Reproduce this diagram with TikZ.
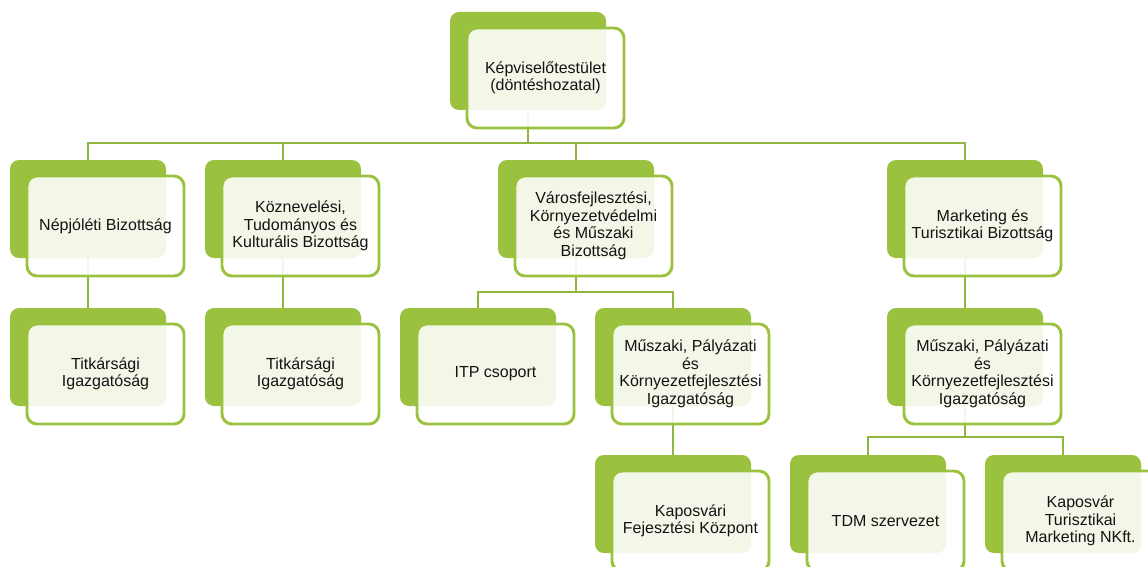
\documentclass[tikz,border=0pt]{standalone}
\usepackage{fontspec}
\setmainfont{Liberation Sans}
\pgfdeclarelayer{bg}
\pgfsetlayers{bg,main}
\definecolor{gr}{RGB}{155,194,62}
\definecolor{ln}{RGB}{143,182,62}
\definecolor{tx}{RGB}{20,20,20}
\tikzset{
 backbox/.style={draw=none, fill=gr, rounded corners=9pt, minimum width=156pt, minimum height=98pt, inner sep=0pt},
 frontbox/.style={draw=gr, line width=2.9pt, fill=white, fill opacity=0.88, text opacity=1, rounded corners=10pt, minimum width=157pt, minimum height=100pt, inner sep=0pt, align=center, text=tx, font=\fontsize{16}{17.5}\selectfont},
 conn/.style={draw=ln, line width=2.9pt}
}
\newcommand\unitbox[4]{%
 \node[backbox] (#1) at (#2+78,#3+49) {};
 \node[frontbox] (#1f) at (#2+95.5,#3+66) {#4};
}
\begin{document}
\begin{tikzpicture}[x=1pt,y=-1pt]
\useasboundingbox (0,0) rectangle (1148,567);
\clip (0,0) rectangle (1148,567);
\unitbox{top}{450}{12}{Képviselőtestület\\(döntéshozatal)}
\unitbox{n1}{10}{160}{Népjóléti Bizottság}
\unitbox{n2}{205}{160}{Köznevelési,\\Tudományos és\\Kulturális Bizottság}
\unitbox{n3}{498}{160}{Városfejlesztési,\\Környezetvédelmi\\és Műszaki\\Bizottság}
\unitbox{n4}{887}{160}{Marketing és\\Turisztikai Bizottság}
\unitbox{t1}{10}{308}{Titkársági\\Igazgatóság}
\unitbox{t2}{205}{308}{Titkársági\\Igazgatóság}
\unitbox{itp}{400}{308}{ITP csoport}
\unitbox{m1}{595}{308}{Műszaki, Pályázati\\és\\Környezetfejlesztési\\Igazgatóság}
\unitbox{m2}{887}{308}{Műszaki, Pályázati\\és\\Környezetfejlesztési\\Igazgatóság}
\unitbox{kfk}{595}{455}{Kaposvári\\Fejesztési Központ}
\unitbox{tdm}{790}{455}{TDM szervezet}
\unitbox{ktm}{985}{455}{Kaposvár\\Turisztikai\\Marketing NKft.}
\coordinate (bus1) at (528,143);
\coordinate (bus2) at (576,292);
\coordinate (bus3) at (965,437);
\begin{pgfonlayer}{bg}
\draw[conn] (top.center) -- (bus1);
\draw[conn] (n1.center) |- (bus1) -| (n4.center);
\draw[conn] (n2.center) -- (n2.center |- bus1);
\draw[conn] (n3.center) -- (n3.center |- bus1);
\draw[conn] (n1.center) -- (t1.center);
\draw[conn] (n2.center) -- (t2.center);
\draw[conn] (n3.center) -- (bus2);
\draw[conn] (itp.center) |- (bus2) -| (m1.center);
\draw[conn] (n4.center) -- (m2.center);
\draw[conn] (m1.center) -- (kfk.center);
\draw[conn] (m2.center) -- (bus3);
\draw[conn] (tdm.center) |- (bus3) -| (ktm.center);
\end{pgfonlayer}
\end{tikzpicture}
\end{document}
